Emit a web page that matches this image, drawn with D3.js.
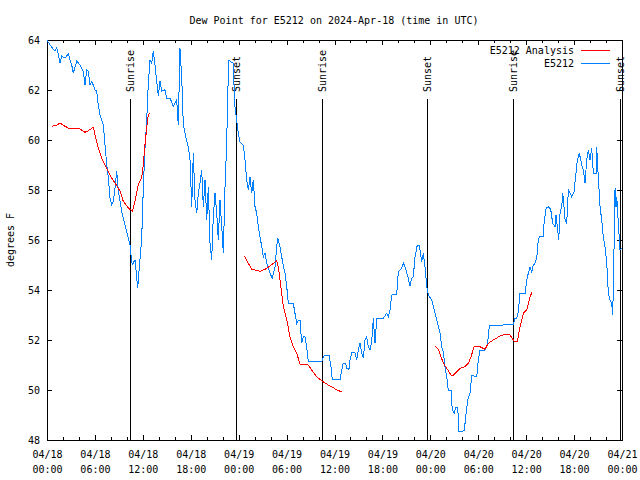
<!DOCTYPE html>
<html>
<head>
<meta charset="utf-8">
<title>Dew Point E5212</title>
<style>
  body { margin: 0; background: #fff; }
  svg text { font-family: "DejaVu Sans Mono", "Liberation Mono", monospace; font-size: 10px; fill: #000; }
  .axis path, .axis line { stroke: #000; shape-rendering: crispEdges; }
</style>
</head>
<body>
<svg id="chart" width="640" height="480"></svg>
<script src="https://cdn.jsdelivr.net/npm/d3@7"></script>
<script>
  // hours since 2024-04-18 00:00 UTC, dew point in degrees F
  const obs = [
    [0.0,64.0],[0.38,63.8],[1.0,63.55],[1.21,63.68],[1.42,63.41],[1.63,63.08],[1.84,63.36],[2.25,63.28],
    [2.67,63.44],[2.88,63.21],[3.09,63.01],[3.29,62.68],[3.72,63.15],[4.13,63.01],[4.55,62.75],[4.76,62.21],
    [4.97,62.81],[5.17,62.75],[5.38,62.21],[5.6,62.35],[6.01,62.01],[6.22,61.95],[6.42,61.41],[6.64,61.01],
    [7.05,60.61],[7.26,59.81],[7.48,59.01],[7.68,58.48],[7.89,57.68],[8.1,57.41],[8.3,57.55],[8.52,58.08],
    [8.73,58.75],[8.93,57.95],[9.35,57.15],[9.77,56.61],[10.18,56.08],[10.39,55.81],[10.52,55.41],[10.68,55.01],
    [11.02,55.21],[11.36,54.08],[11.52,54.75],[11.86,56.08],[12.06,58.08],[12.27,59.68],[12.48,60.75],[12.68,62.21],
    [12.9,63.21],[13.11,63.08],[13.31,63.55],[13.52,63.01],[13.74,62.35],[13.94,61.75],[14.15,62.35],[14.36,61.95],
    [14.78,62.01],[14.99,61.68],[15.4,61.68],[15.82,61.35],[16.24,61.61],[16.44,60.61],[16.65,63.68],[16.87,62.48],
    [17.07,60.61],[17.49,59.95],[17.69,59.73],[17.91,59.2],[18.12,57.33],[18.32,59.47],[18.53,57.6],[18.75,57.07],
    [18.95,57.87],[19.16,58.27],[19.37,58.8],[19.57,57.33],[19.79,58.4],[20.0,56.8],[20.2,58.13],[20.41,55.87],
    [20.62,55.2],[20.82,56.93],[21.04,57.87],[21.25,57.07],[21.45,56.0],[21.66,57.6],[21.88,56.53],[22.08,55.47],
    [22.29,58.13],[22.5,59.87],[22.63,61.87],[22.79,63.2],[23.04,63.12],[23.29,63.08],[23.54,61.33],[23.75,60.8],
    [23.96,60.27],[24.17,59.93],[24.58,59.8],[24.79,59.2],[25.01,58.4],[25.21,58.0],[25.42,58.53],[25.63,57.87],
    [25.83,58.4],[26.05,57.33],[26.26,57.07],[26.46,56.53],[26.89,55.73],[27.09,55.33],[27.3,55.47],[27.51,55.07],
    [27.92,54.67],[28.21,54.47],[28.55,54.93],[28.76,55.73],[28.89,56.07],[29.18,55.73],[29.46,55.2],[29.8,54.67],
    [30.02,54.13],[30.22,53.47],[30.84,53.47],[31.05,53.07],[31.27,52.67],[31.47,52.8],[31.68,52.8],[31.89,51.87],
    [32.09,52.13],[32.31,52.13],[32.52,51.73],[32.72,51.13],[34.4,51.13],[34.6,51.33],[34.81,51.4],[35.31,51.4],
    [35.56,50.93],[35.73,50.4],[36.06,50.43],[36.69,50.4],[36.9,50.8],[37.1,51.07],[37.4,51.07],[37.53,50.87],
    [37.82,50.83],[37.94,51.2],[38.16,51.49],[38.57,51.49],[38.78,51.2],[38.98,51.6],[39.19,51.87],[39.41,51.47],
    [39.61,51.27],[39.82,52.0],[40.03,52.13],[40.23,51.73],[40.45,51.6],[40.66,51.93],[40.86,52.87],[41.07,51.87],
    [41.29,52.87],[42.11,52.87],[42.54,53.07],[42.74,52.93],[42.95,53.2],[43.16,53.8],[43.79,53.83],[43.99,54.73],
    [44.42,54.87],[44.62,55.09],[44.92,54.83],[45.24,54.47],[45.45,54.16],[45.67,54.47],[45.87,54.53],[46.08,55.33],
    [46.37,55.8],[46.62,55.8],[46.8,55.4],[46.92,55.13],[47.12,55.47],[47.33,54.93],[47.55,54.13],[47.75,53.8],
    [48.17,53.6],[48.5,53.2],[48.8,52.8],[49.21,52.27],[49.42,51.73],[49.63,51.53],[49.84,50.93],[50.05,50.53],
    [50.25,50.0],[50.59,50.0],[50.75,49.2],[51.0,49.07],[51.18,49.31],[51.43,49.31],[51.59,48.33],[52.0,48.33],
    [52.26,48.4],[52.43,48.93],[52.68,49.6],[52.97,49.87],[53.18,50.59],[53.81,50.53],[54.01,51.2],[54.22,51.6],
    [54.85,51.6],[55.14,51.8],[55.39,52.56],[58.39,52.63],[58.6,52.87],[58.82,52.87],[59.02,53.13],[59.23,53.87],
    [59.86,53.87],[60.07,54.4],[60.27,54.67],[60.48,54.93],[60.7,54.73],[60.9,55.0],[61.11,55.07],[61.32,55.27],
    [61.52,56.0],[61.73,56.16],[62.15,56.16],[62.24,56.67],[62.49,57.27],[62.78,57.33],[63.07,57.23],[63.32,56.67],
    [63.61,56.53],[63.74,57.0],[63.9,56.53],[64.08,56.0],[64.24,57.07],[64.45,57.33],[64.58,57.87],[64.74,57.33],
    [64.87,56.8],[65.08,56.67],[65.28,58.0],[65.49,57.87],[65.7,57.73],[65.99,57.93],[66.24,58.67],[66.41,59.2],
    [66.66,59.47],[66.96,59.0],[67.16,58.8],[67.37,58.27],[67.58,59.2],[67.78,59.6],[67.99,59.2],[68.21,59.67],
    [68.41,58.67],[68.75,58.67],[68.83,59.73],[69.03,58.53],[69.25,57.33],[69.46,56.8],[69.66,56.13],[69.87,55.73],
    [70.09,55.07],[70.29,53.87],[70.5,53.6],[70.71,53.47],[70.84,53.0],[71.0,55.6],[71.13,58.07],[71.25,57.33],
    [71.34,57.73],[71.54,56.67],[71.75,55.6],[71.96,55.67]
  ];

  const analysisDay1 = [
    [0.59,60.55],[1.21,60.59],[1.63,60.68],[2.25,60.55],[2.67,60.48],[3.92,60.48],[4.76,60.31],[5.17,60.37],
    [5.8,60.51],[6.01,60.21],[6.42,59.68],[6.85,59.28],[7.26,59.01],[7.68,58.75],[8.1,58.48],[8.52,58.28],
    [9.14,57.95],[9.55,57.55],[10.18,57.28],[10.68,57.15],[11.02,57.55],[11.43,58.21],[11.86,58.48],[12.06,59.01],
    [12.27,59.81],[12.48,60.48],[12.68,61.01],[12.9,61.08]
  ];
  const analysisDay2 = [
    [24.71,55.36],[25.21,55.07],[25.63,54.83],[26.67,54.75],[27.3,54.83],[27.92,54.96],[28.76,55.17],[28.96,54.93],
    [29.18,54.4],[29.59,53.33],[30.02,52.8],[30.43,52.13],[30.84,51.73],[31.27,51.47],[31.68,51.04],[32.72,51.0],
    [33.15,50.8],[33.77,50.53],[34.4,50.37],[35.22,50.2],[35.65,50.13],[36.28,50.0],[36.9,49.93]
  ];
  const analysisDay3 = [
    [48.59,51.76],[49.0,51.63],[49.34,51.33],[49.63,51.07],[50.05,50.87],[50.59,50.6],[50.88,50.6],[51.3,50.73],
    [51.72,50.87],[52.34,50.93],[52.76,51.07],[53.09,51.33],[53.51,51.76],[54.22,51.73],[54.85,51.63],[55.26,51.87],
    [55.89,52.0],[56.73,52.16],[57.56,52.24],[57.98,52.2],[58.39,52.0],[58.6,51.92],[58.89,51.93],[59.23,52.53],
    [59.65,53.07],[60.07,53.2],[60.48,53.73],[60.73,53.91]
  ];

  const sunEvents = [
    ["Sunrise", 10.43], ["Sunset", 23.7], ["Sunrise", 34.47],
    ["Sunset", 47.67], ["Sunrise", 58.39], ["Sunset", 71.75]
  ];
  const yTicks = [48, 50, 52, 54, 56, 58, 60, 62, 64];

  const base = Date.UTC(2024, 3, 18);
  const toDate = h => new Date(base + h * 3600e3);

  const plotLeft = 47, plotRight = 622, plotTop = 40, plotBottom = 440;
  const svg = d3.select("#chart");

  const x = d3.scaleUtc().domain([toDate(0), toDate(72)]).range([plotLeft, plotRight]);
  const y = d3.scaleLinear().domain([48, 64]).range([plotBottom, plotTop]);

  svg.append("text").attr("x", 334).attr("y", 20).attr("dy", "0.35em")
    .attr("text-anchor", "middle").text("Dew Point for E5212 on 2024-Apr-18 (time in UTC)");

  svg.append("text").attr("transform", "translate(10,240) rotate(-90)")
    .attr("dy", "0.35em").attr("text-anchor", "middle").text("degrees F");

  // minor ticks every 2 h, major every 6 h, mirrored top and bottom
  const minor = x.ticks(d3.utcHour.every(2));
  const major = x.ticks(d3.utcHour.every(6));

  svg.append("g").attr("class", "axis").attr("transform", `translate(0,${plotBottom})`)
    .call(d3.axisBottom(x).tickValues(minor).tickSize(-3).tickFormat(""))
    .call(g => g.select(".domain").remove());
  svg.append("g").attr("class", "axis").attr("transform", `translate(0,${plotTop})`)
    .call(d3.axisTop(x).tickValues(minor).tickSize(-3).tickFormat(""))
    .call(g => g.select(".domain").remove());
  svg.append("g").attr("class", "axis").attr("transform", `translate(0,${plotTop})`)
    .call(d3.axisTop(x).tickValues(major).tickSize(-5).tickFormat(""))
    .call(g => g.select(".domain").remove());

  const xAxis = svg.append("g").attr("class", "axis").attr("transform", `translate(0,${plotBottom})`)
    .call(d3.axisBottom(x).tickValues(major).tickSize(-5).tickFormat(""))
    .call(g => g.select(".domain").remove());
  xAxis.selectAll(".tick").append("text")
    .attr("text-anchor", "middle")
    .selectAll("tspan")
    .data(d => [d3.utcFormat("%m/%d")(d), d3.utcFormat("%H:%M")(d)])
    .join("tspan")
      .attr("x", 0)
      .attr("y", (d, i) => 18 + i * 15)
      .text(d => d);

  svg.append("g").attr("class", "axis").attr("transform", `translate(${plotLeft},0)`)
    .call(d3.axisLeft(y).tickValues(yTicks).tickSize(-5).tickPadding(7))
    .call(g => g.select(".domain").remove())
    .call(g => g.attr("font-size", null).attr("font-family", null));
  svg.append("g").attr("class", "axis").attr("transform", `translate(${plotRight},0)`)
    .call(d3.axisRight(y).tickValues(yTicks).tickSize(-5).tickFormat(""))
    .call(g => g.select(".domain").remove());

  svg.append("rect")
    .attr("x", plotLeft).attr("y", plotTop)
    .attr("width", plotRight - plotLeft).attr("height", plotBottom - plotTop)
    .attr("fill", "none").attr("stroke", "#000").attr("shape-rendering", "crispEdges");

  // sunrise / sunset markers
  const sun = svg.append("g").selectAll("g").data(sunEvents).join("g")
    .attr("transform", d => `translate(${x(toDate(d[1]))},0)`);
  sun.append("line").attr("y1", 99).attr("y2", plotBottom)
    .attr("stroke", "#000").attr("shape-rendering", "crispEdges");
  sun.append("text")
    .attr("transform", "translate(0,92) rotate(-90)")
    .attr("dy", "0.35em")
    .text(d => d[0]);

  const line = d3.line()
    .x(d => x(toDate(d[0])))
    .y(d => y(d[1]));

  svg.append("path").datum(obs)
    .attr("d", line).attr("fill", "none").attr("stroke", "#0080ff")
    .attr("stroke-width", 1).attr("shape-rendering", "crispEdges");

  svg.selectAll(".analysis").data([analysisDay1, analysisDay2, analysisDay3]).join("path")
    .attr("class", "analysis")
    .attr("d", line).attr("fill", "none").attr("stroke", "#ff0000")
    .attr("stroke-width", 1).attr("shape-rendering", "crispEdges");

  // legend
  const legend = [["E5212 Analysis", "#ff0000"], ["E5212", "#0080ff"]];
  const lg = svg.append("g").selectAll("g").data(legend).join("g")
    .attr("transform", (d, i) => `translate(0,${50 + i * 13})`);
  lg.append("text").attr("x", 574).attr("dy", "0.35em").attr("text-anchor", "end").text(d => d[0]);
  lg.append("line").attr("x1", 581).attr("x2", 610)
    .attr("stroke", d => d[1]).attr("shape-rendering", "crispEdges");
</script>
</body>
</html>
